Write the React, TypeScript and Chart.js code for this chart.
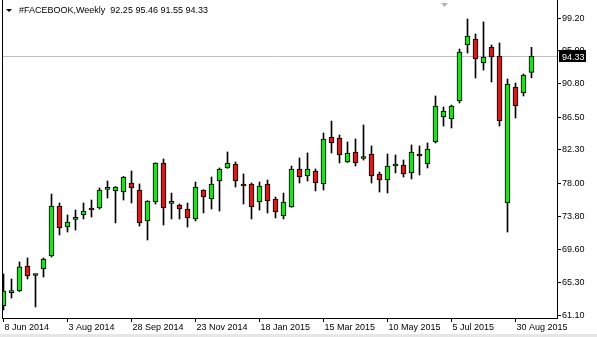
import React, { useEffect, useRef } from 'react';
import { Chart, registerables } from 'chart.js';

Chart.register(...registerables);

// ---- data (weekly candles, 8 Jun 2014 .. 13 Sep 2015) ----
const opens = [
  62.29, 64.0, 64.22, 67.42, 66.2, 67.04, 68.71, 75.12, 72.42, 73.4,
  73.96, 74.86, 74.86, 77.25, 77.04, 76.91, 78.06, 77.17, 73.19, 75.63,
  80.63, 75.45, 75.24, 74.73, 73.45, 77.17, 76.01, 78.32, 79.99, 80.5,
  77.94, 77.94, 75.63, 77.94, 76.01, 73.83, 74.99, 79.86, 78.96, 79.6,
  77.94, 83.96, 83.83, 80.76, 82.04, 81.2, 81.78, 79.22, 78.45, 80.24,
  80.37, 79.35, 81.78, 80.5, 83.32, 86.53, 86.27, 88.58, 95.76, 96.53,
  93.45, 95.5, 94.35, 75.5, 90.37, 89.6, 92.25,
];
const highs = [
  66.4, 65.76, 67.94, 68.45, 66.4, 68.45, 76.65, 75.5, 73.96, 74.6,
  75.5, 75.88, 77.42, 78.32, 77.6, 78.9, 79.6, 77.94, 75.8, 80.65,
  81.14, 76.78, 75.37, 75.5, 78.19, 77.2, 78.83, 79.99, 82.04, 80.76,
  79.22, 78.06, 78.19, 78.45, 76.27, 76.78, 80.24, 81.27, 81.91, 79.86,
  84.47, 86.01, 84.22, 83.32, 83.71, 85.5, 82.81, 79.47, 81.78, 81.65,
  81.01, 82.94, 82.81, 83.19, 89.22, 87.81, 88.06, 95.24, 99.09, 97.17,
  98.71, 95.76, 96.01, 91.4, 90.88, 92.04, 95.46,
];
const lows = [
  61.78, 63.32, 64.15, 65.76, 62.17, 66.01, 68.58, 71.4, 71.78, 72.04,
  73.45, 73.7, 74.73, 76.14, 72.94, 75.88, 75.5, 72.55, 70.76, 75.37,
  72.68, 73.45, 73.45, 72.42, 73.19, 74.22, 74.73, 74.47, 79.95, 77.55,
  75.37, 73.45, 74.6, 74.22, 73.58, 73.45, 74.95, 78.06, 78.32, 77.04,
  77.17, 81.91, 80.63, 80.7, 80.24, 81.01, 78.06, 76.91, 76.78, 79.35,
  78.83, 78.58, 79.09, 79.99, 83.19, 85.37, 85.12, 88.32, 94.73, 91.53,
  92.55, 91.01, 85.37, 71.78, 86.4, 89.22, 91.55,
];
const closes = [
  64.22, 64.15, 67.33, 66.14, 66.3, 68.32, 75.12, 72.29, 73.06, 73.5,
  74.47, 74.6, 77.17, 77.35, 77.55, 78.83, 77.42, 72.94, 75.76, 80.63,
  74.86, 75.55, 74.73, 73.58, 77.55, 76.27, 77.94, 79.86, 80.63, 78.32,
  77.68, 74.99, 77.68, 75.76, 74.35, 75.63, 79.86, 78.83, 79.86, 78.06,
  83.71, 83.19, 81.65, 81.91, 80.63, 81.3, 78.96, 78.45, 80.24, 80.5,
  79.22, 82.04, 81.53, 82.42, 87.94, 87.29, 87.94, 94.86, 96.91, 93.96,
  94.22, 94.22, 86.01, 90.76, 87.94, 91.91, 94.33,
];

const dateLabels = [
  '8 Jun 2014', '3 Aug 2014', '28 Sep 2014', '23 Nov 2014', '18 Jan 2015',
  '15 Mar 2015', '10 May 2015', '5 Jul 2015', '30 Aug 2015',
];
const dateIndices = [0, 8, 16, 24, 32, 40, 48, 56, 64];
const priceTicks = [61.1, 65.3, 69.6, 73.8, 78.0, 82.3, 86.5, 90.8, 95.0, 99.2];
const lastPrice = 94.33;
const headerText = '#FACEBOOK,Weekly  92.25 95.46 91.55 94.33';

const BULL = '#22dd22';
const BEAR = '#d41c1c';
const FONT = '"Liberation Sans", Arial, sans-serif';

const overlayPlugin = {
  id: 'mtOverlay',
  beforeDraw(chart: any) {
    const ctx = chart.ctx;
    ctx.save();
    ctx.fillStyle = '#ffffff';
    ctx.fillRect(0, 0, chart.width, chart.height);
    ctx.fillStyle = '#e6e6e6';
    ctx.fillRect(0, 334, chart.width, 3);
    ctx.restore();
  },
  beforeDatasetsDraw(chart: any) {
    const ctx = chart.ctx;
    const a = chart.chartArea;
    const y = Math.round(chart.scales.y.getPixelForValue(lastPrice)) + 0.5;
    ctx.save();
    ctx.strokeStyle = '#c0c0c0';
    ctx.lineWidth = 1;
    ctx.beginPath();
    ctx.moveTo(a.left, y);
    ctx.lineTo(a.right, y);
    ctx.stroke();
    ctx.restore();
  },
  afterDraw(chart: any) {
    const ctx = chart.ctx;
    const a = chart.chartArea;
    ctx.save();
    // left frame line
    ctx.strokeStyle = '#000000';
    ctx.lineWidth = 1;
    ctx.beginPath();
    ctx.moveTo(a.left + 0.5, 0);
    ctx.lineTo(a.left + 0.5, a.bottom);
    ctx.stroke();
    // price box
    const y = Math.round(chart.scales.y.getPixelForValue(lastPrice));
    ctx.fillStyle = '#000000';
    ctx.fillRect(559, y - 6, 27, 12);
    ctx.fillStyle = '#ffffff';
    ctx.font = '9px ' + FONT;
    ctx.textBaseline = 'alphabetic';
    ctx.textAlign = 'left';
    ctx.fillText(lastPrice.toFixed(2), 562, y + 3.5);
    // shift marker
    ctx.fillStyle = '#b4b4b4';
    ctx.beginPath();
    ctx.moveTo(441, 3);
    ctx.lineTo(448, 3);
    ctx.lineTo(444.5, 7);
    ctx.closePath();
    ctx.fill();
    // header
    ctx.fillStyle = '#000000';
    ctx.beginPath();
    ctx.moveTo(6, 9);
    ctx.lineTo(12, 9);
    ctx.lineTo(9, 12);
    ctx.closePath();
    ctx.fill();
    ctx.font = '9px ' + FONT;
    ctx.fillText(headerText, 19, 13);
    ctx.restore();
  },
};

export default function App() {
  const ref = useRef<HTMLCanvasElement | null>(null);

  useEffect(() => {
    document.body.style.margin = '0';
    const canvas = ref.current;
    if (!canvas) return;

    const bodies = opens.map((o, i) => ({ x: i, y: [Math.min(o, closes[i]), Math.max(o, closes[i])] }));
    const wicks = highs.map((h, i) => ({ x: i, y: [lows[i], h] }));
    const colors = opens.map((o, i) => (closes[i] >= o ? BULL : BEAR));

    const chart = new Chart(canvas, {
      type: 'bar',
      data: {
        datasets: [
          {
            data: bodies as any,
            backgroundColor: colors,
            borderColor: '#000000',
            borderWidth: 1,
            borderSkipped: false,
            grouped: false,
            barThickness: 5,
            maxBarThickness: 5,
            minBarLength: 2,
            order: 0,
          } as any,
          {
            data: wicks as any,
            backgroundColor: '#000000',
            borderWidth: 0,
            grouped: false,
            barThickness: 1,
            maxBarThickness: 1,
            order: 1,
          } as any,
        ],
      },
      options: {
        animation: false,
        responsive: false,
        maintainAspectRatio: false,
        devicePixelRatio: 1,
        layout: { padding: { left: 2, top: 0, right: 0, bottom: 0 } },
        plugins: { legend: { display: false }, tooltip: { enabled: false } },
        scales: {
          x: {
            type: 'linear',
            offset: false,
            min: -0.1875,
            max: 69.1875,
            grid: { display: true, drawOnChartArea: false, drawTicks: true, tickLength: 4, color: '#000000', offset: false },
            border: { display: true, color: '#000000', width: 1 },
            ticks: {
              autoSkip: false,
              maxRotation: 0,
              minRotation: 0,
              align: 'start',
              padding: 0,
              labelOffset: 1,
              color: '#000000',
              font: { family: FONT, size: 9 },
              callback: (v: any) => {
                const k = dateIndices.indexOf(Number(v));
                return k >= 0 ? dateLabels[k] : '';
              },
            },
            afterBuildTicks: (scale: any) => {
              scale.ticks = dateIndices.map((v) => ({ value: v }));
            },
            afterFit: (scale: any) => {
              scale.height = 19;
              scale.paddingLeft = 0;
              scale.paddingRight = 0;
            },
          },
          y: {
            type: 'linear',
            position: 'right',
            min: 60.756,
            max: 101.526,
            grid: { display: true, drawOnChartArea: false, drawTicks: true, tickLength: 4, color: '#000000' },
            border: { display: true, color: '#000000', width: 1 },
            ticks: {
              padding: 1,
              color: '#000000',
              font: { family: FONT, size: 9 },
              callback: (v: any) => Number(v).toFixed(2),
            },
            afterBuildTicks: (scale: any) => {
              scale.ticks = priceTicks.map((v) => ({ value: v }));
            },
            afterFit: (scale: any) => {
              scale.width = 40;
              scale.paddingTop = 0;
              scale.paddingBottom = 0;
            },
          },
        },
      } as any,
      plugins: [overlayPlugin],
    });

    return () => chart.destroy();
  }, []);

  return (
    <canvas ref={ref} width={597} height={337} style={{ display: 'block', width: 597, height: 337 }} />
  );
}
